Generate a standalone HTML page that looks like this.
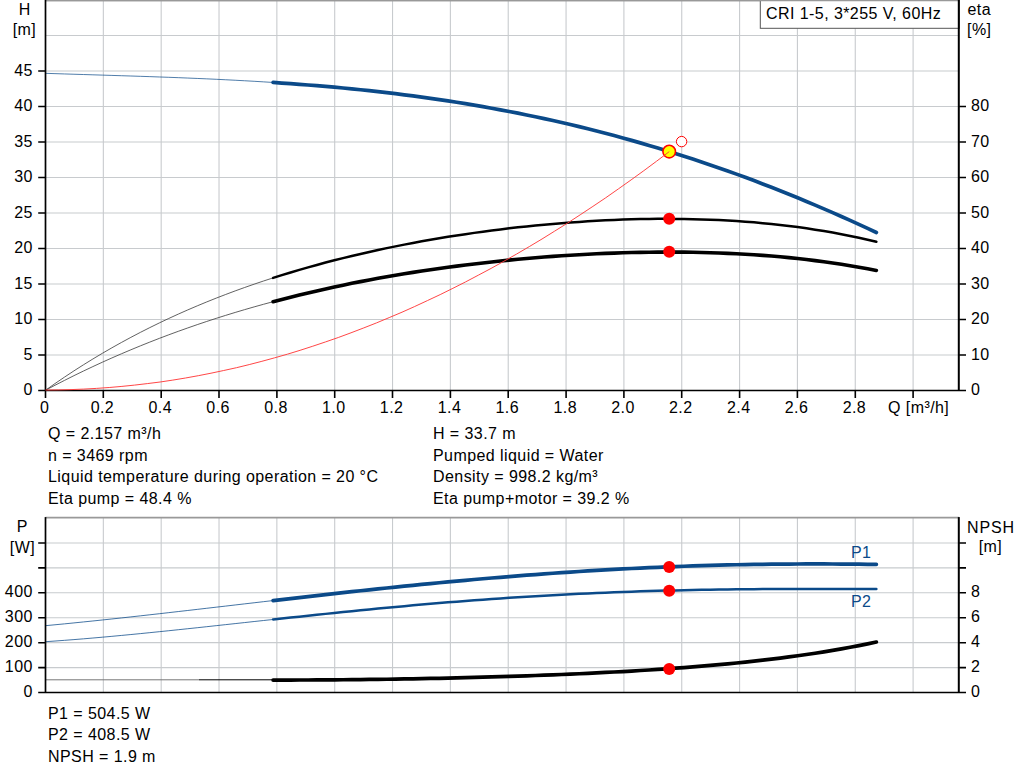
<!DOCTYPE html><html><head><meta charset="utf-8"><title>Pump curve</title>
<style>html,body{margin:0;padding:0;background:#fff;}svg{display:block;}text{font-family:"Liberation Sans",sans-serif;font-size:16px;fill:#000;letter-spacing:0.43px;}</style></head><body>
<svg width="1024" height="781" viewBox="0 0 1024 781">
<rect width="1024" height="781" fill="#fff"/>
<path d="M103.34,0V390.5M161.18,0V390.5M219.02,0V390.5M276.86,0V390.5M334.70,0V390.5M392.54,0V390.5M450.38,0V390.5M508.22,0V390.5M566.06,0V390.5M623.90,0V390.5M681.74,0V390.5M739.58,0V390.5M797.42,0V390.5M855.26,0V390.5M913.10,0V390.5M45.5,355.00H959.2M45.5,319.50H959.2M45.5,284.00H959.2M45.5,248.50H959.2M45.5,213.00H959.2M45.5,177.50H959.2M45.5,142.00H959.2M45.5,106.50H959.2M45.5,71.00H959.2M45.5,35.50H959.2" stroke="#c8cbce" stroke-width="1.1" fill="none"/>
<path d="M45.5,0.3H959.2" stroke="#999" stroke-width="1.8"/>
<path d="M45.50,73.32 L54.98,73.64 L64.47,73.94 L73.95,74.24 L83.43,74.53 L92.92,74.82 L102.40,75.12 L111.88,75.41 L121.37,75.71 L130.85,76.01 L140.33,76.32 L149.82,76.64 L159.30,76.97 L168.78,77.31 L178.27,77.67 L187.75,78.05 L197.23,78.44 L206.72,78.85 L216.20,79.29 L225.68,79.75 L235.17,80.24 L244.65,80.75 L254.13,81.29 L263.62,81.86 L273.10,82.46" stroke="#0b4a89" stroke-width="0.9" fill="none" opacity="0.8"/>
<path d="M45.50,390.27 L54.98,383.59 L64.47,377.13 L73.95,370.87 L83.43,364.82 L92.92,358.96 L102.40,353.29 L111.88,347.81 L121.37,342.50 L130.85,337.37 L140.33,332.40 L149.82,327.60 L159.30,322.95 L168.78,318.46 L178.27,314.12 L187.75,309.92 L197.23,305.86 L206.72,301.93 L216.20,298.14 L225.68,294.47 L235.17,290.92 L244.65,287.49 L254.13,284.18 L263.62,280.98 L273.10,277.88" stroke="#444" stroke-width="0.85" fill="none"/>
<path d="M45.50,390.26 L54.98,385.27 L64.47,380.41 L73.95,375.67 L83.43,371.06 L92.92,366.57 L102.40,362.20 L111.88,357.95 L121.37,353.82 L130.85,349.80 L140.33,345.89 L149.82,342.09 L159.30,338.39 L168.78,334.81 L178.27,331.32 L187.75,327.94 L197.23,324.65 L206.72,321.46 L216.20,318.37 L225.68,315.37 L235.17,312.46 L244.65,309.64 L254.13,306.90 L263.62,304.25 L273.10,301.69" stroke="#444" stroke-width="0.85" fill="none"/>
<path d="M273.10,277.88 L281.84,275.12 L290.59,272.45 L299.33,269.86 L308.07,267.36 L316.82,264.93 L325.56,262.58 L334.30,260.31 L343.04,258.10 L351.79,255.98 L360.53,253.92 L369.27,251.93 L378.02,250.00 L386.76,248.14 L395.50,246.35 L404.25,244.62 L412.99,242.95 L421.73,241.33 L430.48,239.78 L439.22,238.29 L447.96,236.85 L456.70,235.47 L465.45,234.15 L474.19,232.88 L482.93,231.67 L491.68,230.51 L500.42,229.40 L509.16,228.35 L517.91,227.36 L526.65,226.41 L535.39,225.52 L544.14,224.68 L552.88,223.90 L561.62,223.17 L570.36,222.50 L579.11,221.88 L587.85,221.31 L596.59,220.80 L605.34,220.35 L614.08,219.96 L622.82,219.62 L631.57,219.34 L640.31,219.12 L649.05,218.97 L657.80,218.87 L666.54,218.84 L675.28,218.88 L684.02,218.98 L692.77,219.15 L701.51,219.39 L710.25,219.69 L719.00,220.08 L727.74,220.53 L736.48,221.07 L745.23,221.68 L753.97,222.37 L762.71,223.14 L771.45,224.00 L780.20,224.95 L788.94,225.98 L797.68,227.11 L806.43,228.33 L815.17,229.65 L823.91,231.07 L832.66,232.59 L841.40,234.22 L850.14,235.95 L858.89,237.79 L867.63,239.75 L876.37,241.83" stroke="#000" stroke-width="2.5" fill="none" stroke-linecap="round"/>
<path d="M273.10,301.69 L281.84,299.39 L290.59,297.17 L299.33,295.01 L308.07,292.91 L316.82,290.88 L325.56,288.91 L334.30,287.00 L343.04,285.15 L351.79,283.36 L360.53,281.63 L369.27,279.96 L378.02,278.34 L386.76,276.77 L395.50,275.26 L404.25,273.80 L412.99,272.40 L421.73,271.04 L430.48,269.74 L439.22,268.48 L447.96,267.27 L456.70,266.11 L465.45,265.00 L474.19,263.94 L482.93,262.92 L491.68,261.95 L500.42,261.02 L509.16,260.14 L517.91,259.30 L526.65,258.51 L535.39,257.77 L544.14,257.07 L552.88,256.41 L561.62,255.80 L570.36,255.23 L579.11,254.71 L587.85,254.24 L596.59,253.81 L605.34,253.42 L614.08,253.09 L622.82,252.80 L631.57,252.56 L640.31,252.37 L649.05,252.22 L657.80,252.13 L666.54,252.09 L675.28,252.10 L684.02,252.17 L692.77,252.29 L701.51,252.46 L710.25,252.70 L719.00,252.99 L727.74,253.34 L736.48,253.75 L745.23,254.23 L753.97,254.78 L762.71,255.39 L771.45,256.07 L780.20,256.82 L788.94,257.64 L797.68,258.55 L806.43,259.53 L815.17,260.59 L823.91,261.73 L832.66,262.96 L841.40,264.28 L850.14,265.69 L858.89,267.20 L867.63,268.81 L876.37,270.51" stroke="#000" stroke-width="3.6" fill="none" stroke-linecap="round"/>
<path d="M273.10,82.46 L281.84,83.05 L290.59,83.66 L299.33,84.31 L308.07,84.98 L316.82,85.69 L325.56,86.44 L334.30,87.21 L343.04,88.03 L351.79,88.88 L360.53,89.76 L369.27,90.69 L378.02,91.66 L386.76,92.66 L395.50,93.71 L404.25,94.80 L412.99,95.94 L421.73,97.11 L430.48,98.34 L439.22,99.60 L447.96,100.92 L456.70,102.28 L465.45,103.69 L474.19,105.15 L482.93,106.65 L491.68,108.21 L500.42,109.82 L509.16,111.48 L517.91,113.19 L526.65,114.95 L535.39,116.77 L544.14,118.64 L552.88,120.56 L561.62,122.54 L570.36,124.57 L579.11,126.66 L587.85,128.81 L596.59,131.01 L605.34,133.27 L614.08,135.58 L622.82,137.95 L631.57,140.38 L640.31,142.87 L649.05,145.42 L657.80,148.02 L666.54,150.68 L675.28,153.41 L684.02,156.19 L692.77,159.03 L701.51,161.93 L710.25,164.89 L719.00,167.91 L727.74,170.99 L736.48,174.13 L745.23,177.33 L753.97,180.59 L762.71,183.91 L771.45,187.29 L780.20,190.73 L788.94,194.24 L797.68,197.80 L806.43,201.42 L815.17,205.10 L823.91,208.84 L832.66,212.64 L841.40,216.49 L850.14,220.41 L858.89,224.39 L867.63,228.42 L876.37,232.52" stroke="#0b4a89" stroke-width="3.7" fill="none" stroke-linecap="round"/>
<rect x="760.3" y="-2" width="198.9" height="30.3" fill="#fff" stroke="#555" stroke-width="1"/>
<text x="766" y="18.7">CRI 1-5, 3*255 V, 60Hz</text>
<path d="M45.5,0.3H959.2" stroke="#999" stroke-width="1.8"/>
<path d="M45.5,0V390.5" stroke="#000" stroke-width="1.7"/><path d="M958.8,0V390.5" stroke="#000" stroke-width="2"/>
<path d="M38.2,390.5H966.0M38.2,355.0H45.5M38.2,319.5H45.5M38.2,284.0H45.5M38.2,248.5H45.5M38.2,213.0H45.5M38.2,177.5H45.5M38.2,142.0H45.5M38.2,106.5H45.5M38.2,71.0H45.5M959.2,355.0H966.0M959.2,319.5H966.0M959.2,284.0H966.0M959.2,248.5H966.0M959.2,213.0H966.0M959.2,177.5H966.0M959.2,142.0H966.0M959.2,106.5H966.0M45.5,390.5V398.1M103.3,390.5V398.1M161.2,390.5V398.1M219.0,390.5V398.1M276.9,390.5V398.1M334.7,390.5V398.1M392.5,390.5V398.1M450.4,390.5V398.1M508.2,390.5V398.1M566.1,390.5V398.1M623.9,390.5V398.1M681.7,390.5V398.1M739.6,390.5V398.1M797.4,390.5V398.1M855.3,390.5V398.1M913.1,390.5V398.1" stroke="#000" stroke-width="1.6" fill="none"/>
<circle cx="681.6" cy="141.6" r="5.2" fill="#fff" stroke="#ff0000" stroke-width="1"/>
<circle cx="669.2" cy="151.6" r="6.3" fill="#ffff00" stroke="#ff0000" stroke-width="1.6"/>
<path d="M45.5,390.0 L58.2,389.9 L71.0,389.6 L83.7,389.1 L96.4,388.4 L109.2,387.5 L121.9,386.4 L134.6,385.1 L147.3,383.6 L160.1,382.0 L172.8,380.1 L185.5,378.0 L198.3,375.7 L211.0,373.2 L223.7,370.5 L236.5,367.7 L249.2,364.6 L261.9,361.3 L274.7,357.8 L287.4,354.2 L300.1,350.3 L312.8,346.2 L325.6,341.9 L338.3,337.5 L351.0,332.8 L363.8,327.9 L376.5,322.9 L389.2,317.6 L402.0,312.2 L414.7,306.5 L427.4,300.6 L440.2,294.6 L452.9,288.3 L465.6,281.9 L478.3,275.2 L491.1,268.4 L503.8,261.3 L516.5,254.1 L529.3,246.6 L542.0,239.0 L554.7,231.1 L567.5,223.1 L580.2,214.8 L592.9,206.4 L605.7,197.8 L618.4,188.9 L631.1,179.9 L643.8,170.7 L656.6,161.2 L669.3,151.6" stroke="#ff3c3c" stroke-width="0.95" fill="none"/>
<circle cx="669.2" cy="218.85" r="6" fill="#ff0000"/>
<circle cx="669.2" cy="251.7" r="6" fill="#ff0000"/>
<text x="24.7" y="15" text-anchor="middle">H</text><text x="24.5" y="34.6" text-anchor="middle">[m]</text>
<text x="979.3" y="14.6" text-anchor="middle">eta</text><text x="979.3" y="34.6" text-anchor="middle">[%]</text>
<text x="32.8" y="395.1" text-anchor="end">0</text>
<text x="32.8" y="359.6" text-anchor="end">5</text>
<text x="32.8" y="324.1" text-anchor="end">10</text>
<text x="32.8" y="288.6" text-anchor="end">15</text>
<text x="32.8" y="253.1" text-anchor="end">20</text>
<text x="32.8" y="217.6" text-anchor="end">25</text>
<text x="32.8" y="182.1" text-anchor="end">30</text>
<text x="32.8" y="146.6" text-anchor="end">35</text>
<text x="32.8" y="111.1" text-anchor="end">40</text>
<text x="32.8" y="75.6" text-anchor="end">45</text>
<text x="971" y="395.1">0</text>
<text x="971" y="359.6">10</text>
<text x="971" y="324.1">20</text>
<text x="971" y="288.6">30</text>
<text x="971" y="253.1">40</text>
<text x="971" y="217.6">50</text>
<text x="971" y="182.1">60</text>
<text x="971" y="146.6">70</text>
<text x="971" y="111.1">80</text>
<text x="44.6" y="413.2" text-anchor="middle">0</text>
<text x="102.4" y="413.2" text-anchor="middle">0.2</text>
<text x="160.3" y="413.2" text-anchor="middle">0.4</text>
<text x="218.1" y="413.2" text-anchor="middle">0.6</text>
<text x="276.0" y="413.2" text-anchor="middle">0.8</text>
<text x="333.8" y="413.2" text-anchor="middle">1.0</text>
<text x="391.6" y="413.2" text-anchor="middle">1.2</text>
<text x="449.5" y="413.2" text-anchor="middle">1.4</text>
<text x="507.3" y="413.2" text-anchor="middle">1.6</text>
<text x="565.2" y="413.2" text-anchor="middle">1.8</text>
<text x="623.0" y="413.2" text-anchor="middle">2.0</text>
<text x="680.8" y="413.2" text-anchor="middle">2.2</text>
<text x="738.7" y="413.2" text-anchor="middle">2.4</text>
<text x="796.5" y="413.2" text-anchor="middle">2.6</text>
<text x="854.4" y="413.2" text-anchor="middle">2.8</text>
<text x="888" y="413.2">Q [m<tspan dy="-1.6">³</tspan><tspan dy="1.6">/h]</tspan></text>
<text x="48" y="439.3">Q = 2.157 m<tspan dy="-1.6">³</tspan><tspan dy="1.6">/h</tspan></text><text x="433" y="439.3">H = 33.7 m</text>
<text x="48" y="460.8">n = 3469 rpm</text><text x="433" y="460.8">Pumped liquid = Water</text>
<text x="48" y="482.3">Liquid temperature during operation = 20 °C</text><text x="433" y="482.3">Density = 998.2 kg/m<tspan dy="-1.6">³</tspan></text>
<text x="48" y="503.8">Eta pump = 48.4 %</text><text x="433" y="503.8">Eta pump+motor = 39.2 %</text>
<path d="M103.34,517.9V692.5M161.18,517.9V692.5M219.02,517.9V692.5M276.86,517.9V692.5M334.70,517.9V692.5M392.54,517.9V692.5M450.38,517.9V692.5M508.22,517.9V692.5M566.06,517.9V692.5M623.90,517.9V692.5M681.74,517.9V692.5M739.58,517.9V692.5M797.42,517.9V692.5M855.26,517.9V692.5M913.10,517.9V692.5M45.5,667.58H959.2M45.5,642.66H959.2M45.5,617.74H959.2M45.5,592.82H959.2M45.5,567.90H959.2M45.5,542.98H959.2" stroke="#c8cbce" stroke-width="1.1" fill="none"/>
<path d="M45.5,517.6H959.2" stroke="#999" stroke-width="1.8"/>
<path d="M45.5,679.8H199" stroke="#777" stroke-width="1" fill="none"/>
<path d="M199,679.8H274" stroke="#000" stroke-width="1" fill="none"/>
<path d="M45.50,625.68 L54.98,624.78 L64.47,623.86 L73.95,622.91 L83.43,621.95 L92.92,620.97 L102.40,619.98 L111.88,618.97 L121.37,617.94 L130.85,616.90 L140.33,615.85 L149.82,614.79 L159.30,613.72 L168.78,612.65 L178.27,611.56 L187.75,610.47 L197.23,609.38 L206.72,608.28 L216.20,607.18 L225.68,606.08 L235.17,604.97 L244.65,603.87 L254.13,602.77 L263.62,601.67 L273.10,600.57" stroke="#0b4a89" stroke-width="0.9" fill="none" opacity="0.85"/>
<path d="M45.50,641.71 L54.98,641.04 L64.47,640.34 L73.95,639.60 L83.43,638.83 L92.92,638.02 L102.40,637.19 L111.88,636.33 L121.37,635.45 L130.85,634.54 L140.33,633.61 L149.82,632.66 L159.30,631.70 L168.78,630.72 L178.27,629.73 L187.75,628.73 L197.23,627.72 L206.72,626.69 L216.20,625.67 L225.68,624.64 L235.17,623.60 L244.65,622.57 L254.13,621.53 L263.62,620.50 L273.10,619.47" stroke="#0b4a89" stroke-width="0.9" fill="none" opacity="0.85"/>
<path d="M273.10,680.08 L281.84,680.06 L290.59,680.04 L299.33,680.01 L308.07,679.98 L316.82,679.93 L325.56,679.87 L334.30,679.81 L343.04,679.74 L351.79,679.66 L360.53,679.56 L369.27,679.46 L378.02,679.35 L386.76,679.23 L395.50,679.10 L404.25,678.95 L412.99,678.80 L421.73,678.64 L430.48,678.47 L439.22,678.28 L447.96,678.09 L456.70,677.88 L465.45,677.67 L474.19,677.44 L482.93,677.20 L491.68,676.95 L500.42,676.69 L509.16,676.41 L517.91,676.12 L526.65,675.82 L535.39,675.51 L544.14,675.18 L552.88,674.84 L561.62,674.49 L570.36,674.12 L579.11,673.73 L587.85,673.33 L596.59,672.91 L605.34,672.47 L614.08,672.01 L622.82,671.54 L631.57,671.04 L640.31,670.52 L649.05,669.98 L657.80,669.41 L666.54,668.82 L675.28,668.20 L684.02,667.56 L692.77,666.88 L701.51,666.17 L710.25,665.43 L719.00,664.66 L727.74,663.85 L736.48,663.00 L745.23,662.10 L753.97,661.17 L762.71,660.19 L771.45,659.16 L780.20,658.08 L788.94,656.95 L797.68,655.76 L806.43,654.52 L815.17,653.21 L823.91,651.83 L832.66,650.39 L841.40,648.88 L850.14,647.29 L858.89,645.62 L867.63,643.87 L876.37,642.03" stroke="#000" stroke-width="3.7" fill="none" stroke-linecap="round"/>
<path d="M273.10,619.47 L281.84,618.52 L290.59,617.58 L299.33,616.64 L308.07,615.71 L316.82,614.78 L325.56,613.87 L334.30,612.96 L343.04,612.07 L351.79,611.18 L360.53,610.31 L369.27,609.45 L378.02,608.60 L386.76,607.77 L395.50,606.95 L404.25,606.14 L412.99,605.35 L421.73,604.58 L430.48,603.82 L439.22,603.08 L447.96,602.36 L456.70,601.65 L465.45,600.97 L474.19,600.30 L482.93,599.65 L491.68,599.02 L500.42,598.41 L509.16,597.82 L517.91,597.25 L526.65,596.70 L535.39,596.17 L544.14,595.66 L552.88,595.17 L561.62,594.70 L570.36,594.25 L579.11,593.82 L587.85,593.41 L596.59,593.02 L605.34,592.65 L614.08,592.30 L622.82,591.97 L631.57,591.66 L640.31,591.37 L649.05,591.10 L657.80,590.85 L666.54,590.61 L675.28,590.39 L684.02,590.19 L692.77,590.01 L701.51,589.84 L710.25,589.69 L719.00,589.56 L727.74,589.44 L736.48,589.33 L745.23,589.24 L753.97,589.16 L762.71,589.09 L771.45,589.03 L780.20,588.98 L788.94,588.95 L797.68,588.92 L806.43,588.90 L815.17,588.89 L823.91,588.88 L832.66,588.88 L841.40,588.88 L850.14,588.89 L858.89,588.90 L867.63,588.91 L876.37,588.92" stroke="#0b4a89" stroke-width="2.5" fill="none" stroke-linecap="round"/>
<path d="M273.10,600.57 L281.84,599.56 L290.59,598.56 L299.33,597.56 L308.07,596.57 L316.82,595.58 L325.56,594.60 L334.30,593.63 L343.04,592.66 L351.79,591.71 L360.53,590.76 L369.27,589.82 L378.02,588.90 L386.76,587.98 L395.50,587.08 L404.25,586.19 L412.99,585.31 L421.73,584.44 L430.48,583.58 L439.22,582.74 L447.96,581.92 L456.70,581.11 L465.45,580.31 L474.19,579.53 L482.93,578.77 L491.68,578.02 L500.42,577.29 L509.16,576.57 L517.91,575.88 L526.65,575.20 L535.39,574.54 L544.14,573.89 L552.88,573.27 L561.62,572.66 L570.36,572.08 L579.11,571.51 L587.85,570.96 L596.59,570.43 L605.34,569.92 L614.08,569.43 L622.82,568.97 L631.57,568.52 L640.31,568.09 L649.05,567.68 L657.80,567.30 L666.54,566.93 L675.28,566.59 L684.02,566.26 L692.77,565.96 L701.51,565.68 L710.25,565.42 L719.00,565.18 L727.74,564.96 L736.48,564.77 L745.23,564.59 L753.97,564.44 L762.71,564.30 L771.45,564.19 L780.20,564.10 L788.94,564.03 L797.68,563.98 L806.43,563.95 L815.17,563.94 L823.91,563.95 L832.66,563.98 L841.40,564.03 L850.14,564.10 L858.89,564.18 L867.63,564.29 L876.37,564.42" stroke="#0b4a89" stroke-width="3.7" fill="none" stroke-linecap="round"/>
<path d="M45.5,517.1V692.5" stroke="#000" stroke-width="1.7"/><path d="M958.8,517.1V692.5" stroke="#000" stroke-width="2"/>
<path d="M38.2,692.5H966.0M38.2,667.6H45.5M959.2,667.6H966.0M38.2,642.7H45.5M959.2,642.7H966.0M38.2,617.7H45.5M959.2,617.7H966.0M38.2,592.8H45.5M959.2,592.8H966.0M38.2,567.9H45.5M959.2,567.9H966.0M38.2,543.0H45.5M959.2,543.0H966.0" stroke="#000" stroke-width="1.6" fill="none"/>
<circle cx="669.2" cy="566.95" r="6" fill="#ff0000"/>
<circle cx="669.2" cy="590.75" r="6" fill="#ff0000"/>
<circle cx="669.2" cy="668.9" r="6" fill="#ff0000"/>
<text x="22.2" y="532.4" text-anchor="middle">P</text><text x="22.4" y="552.5" text-anchor="middle">[W]</text>
<text x="991" y="532.8" text-anchor="middle" style="letter-spacing:0.85px">NPSH</text><text x="990.5" y="551.6" text-anchor="middle">[m]</text>
<text x="32.8" y="696.8" text-anchor="end">0</text>
<text x="32.8" y="671.9" text-anchor="end">100</text>
<text x="32.8" y="647.0" text-anchor="end">200</text>
<text x="32.8" y="622.0" text-anchor="end">300</text>
<text x="32.8" y="597.1" text-anchor="end">400</text>
<text x="971" y="696.8">0</text>
<text x="971" y="671.9">2</text>
<text x="971" y="647.0">4</text>
<text x="971" y="622.0">6</text>
<text x="971" y="597.1">8</text>
<text x="851" y="557.8" style="fill:#0b4a89">P1</text><text x="851" y="607" style="fill:#0b4a89">P2</text>
<text x="48" y="718.6">P1 = 504.5 W</text>
<text x="48" y="740.1">P2 = 408.5 W</text>
<text x="48" y="761.6">NPSH = 1.9 m</text>
</svg></body></html>
